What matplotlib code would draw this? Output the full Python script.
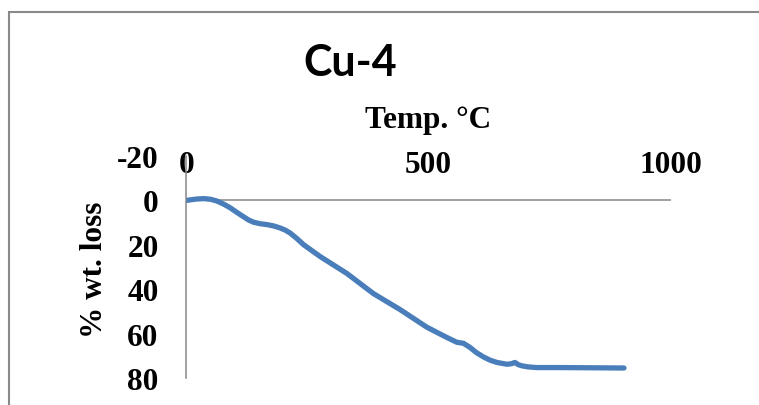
import matplotlib.pyplot as plt
from matplotlib.patches import Rectangle

# TGA data (temperature in °C, % weight loss)
temp = [0, 20, 36, 50, 63, 76, 90, 104, 118, 128, 138, 152, 166, 180, 193, 204, 214,
        228, 242, 276, 331, 386, 441, 496, 537, 558, 572, 585, 598, 613, 627, 641,
        661, 670, 678, 685, 692, 705, 723, 771, 903]
loss = [0, -0.6, -0.8, -0.5, 0.3, 1.6, 3.3, 5.4, 7.4, 8.8, 9.8, 10.5, 10.9, 11.5,
        12.4, 13.4, 14.7, 17.2, 20, 25.3, 32.9, 42, 49.2, 57.1, 61.7, 63.9, 64.4,
        66.2, 68.5, 70.5, 72, 73, 73.8, 73.6, 73, 74, 74.5, 75, 75.3, 75.3, 75.5]

x_ticks = [0, 500, 1000]
y_ticks = [-20, 0, 20, 40, 60, 80]

serif = 'Liberation Serif'
plt.rcParams['axes.unicode_minus'] = False

fig = plt.figure(figsize=(7.59, 4.06), dpi=100)
ax = fig.add_axes([0.2457, 0.0665, 0.6383, 0.5468])

ax.plot(temp, loss, color='#4a7ebb', lw=3.8, solid_capstyle='round', solid_joinstyle='round')

# eje x na linha y = 0, rótulos em cima
ax.axhline(0, color='#868686', lw=1.1, zorder=0)
ax.set_xlim(0, 1000)
ax.set_ylim(80, -20)

for s in ['top', 'right', 'bottom']:
    ax.spines[s].set_visible(False)
ax.spines['left'].set_color('#868686')
ax.spines['left'].set_linewidth(1.1)

ax.xaxis.tick_top()
ax.set_xticks(x_ticks)
ax.set_yticks(y_ticks)
ax.tick_params(axis='x', length=0, pad=-16.3)
ax.tick_params(axis='y', length=0, pad=20)
for lab in ax.get_xticklabels() + ax.get_yticklabels():
    lab.set_fontfamily(serif)
    lab.set_fontweight('bold')
    lab.set_fontsize(22.5)

ax.xaxis.set_label_position('top')
ax.set_xlabel('Temp. °C', fontfamily=serif, fontweight='bold', fontsize=22.5)
ax.xaxis.set_label_coords(0.4985, 1.13)
ax.set_ylabel('% wt. loss', fontfamily=serif, fontweight='bold', fontsize=22.5)
ax.yaxis.set_label_coords(-0.159, 0.49)

fig.text(0.461, 1 - 76 / 406, 'Cu-4', fontfamily='Lato', fontweight='bold',
         fontsize=31, ha='center', va='baseline')

# moldura do gráfico (cortada à direita e embaixo)
fig.patches.append(Rectangle((9 / 759, -0.1), 1.2, 1 - 13 / 406 + 0.1,
                             transform=fig.transFigure, fill=False,
                             edgecolor='#8a8a8a', lw=1.5))

fig.savefig('out.png', dpi=100)
